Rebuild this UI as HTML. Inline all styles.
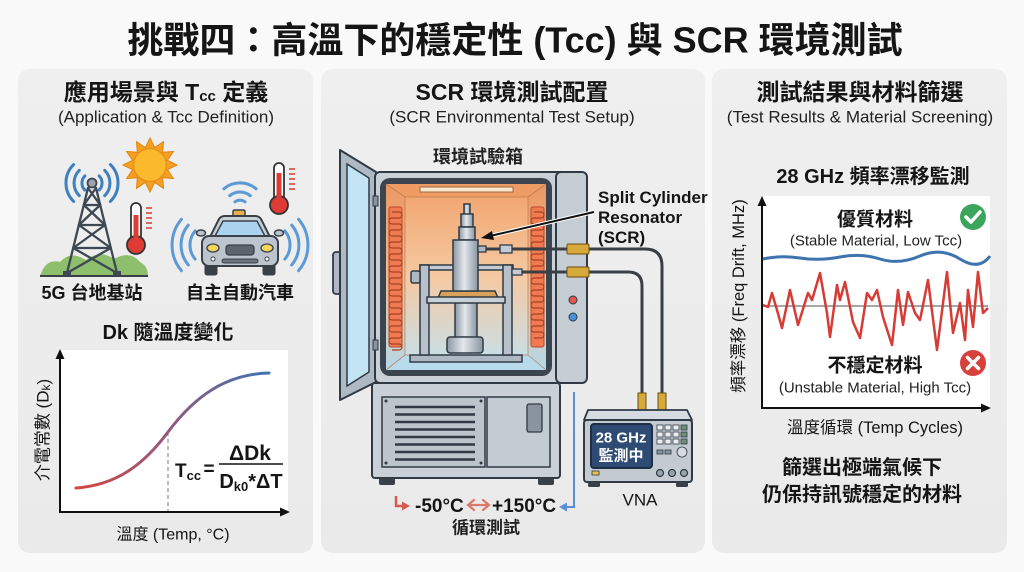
<!DOCTYPE html>
<html><head><meta charset="utf-8">
<style>
html,body{margin:0;padding:0;background:#f9f9f9;}
svg{display:block;font-family:"Liberation Sans","Noto Sans CJK TC",sans-serif;}
</style></head><body>
<svg width="1024" height="572" viewBox="0 0 1024 572" xmlns="http://www.w3.org/2000/svg">
<defs>
 <linearGradient id="pg" x1="0" y1="0" x2="0" y2="1"><stop offset="0" stop-color="#efefef"/><stop offset="1" stop-color="#eaeaea"/></linearGradient>
 <linearGradient id="cv" x1="0" y1="0" x2="0" y2="1"><stop offset="0" stop-color="#f1a26a"/><stop offset="0.5" stop-color="#f5c9a2"/><stop offset="1" stop-color="#c3e2f0"/></linearGradient>
 <linearGradient id="cvs" x1="0" y1="0" x2="0" y2="1"><stop offset="0" stop-color="#eb9762"/><stop offset="0.5" stop-color="#efbd94"/><stop offset="1" stop-color="#b5d9ea"/></linearGradient>
 <linearGradient id="metal" x1="0" y1="0" x2="1" y2="0"><stop offset="0" stop-color="#8a96a2"/><stop offset="0.45" stop-color="#e3e8ed"/><stop offset="1" stop-color="#8a96a2"/></linearGradient>
 <linearGradient id="curve" gradientUnits="userSpaceOnUse" x1="76" y1="0" x2="269" y2="0"><stop offset="0" stop-color="#d4453e"/><stop offset="0.5" stop-color="#8f5a82"/><stop offset="1" stop-color="#3e74b4"/></linearGradient>
</defs>

<rect width="1024" height="572" fill="#f9f9f9"/>

<!-- Title -->
<text x="515" y="40" text-anchor="middle" dominant-baseline="central" font-size="36" font-weight="bold" fill="#151515">挑戰四：高溫下的穩定性 (Tcc) 與 SCR 環境測試</text>

<!-- Panels -->
<rect x="18" y="69" width="295" height="484" rx="12" fill="url(#pg)"/>
<rect x="321" y="69" width="384" height="484" rx="12" fill="url(#pg)"/>
<rect x="712" y="69" width="295" height="484" rx="12" fill="url(#pg)"/>

<!-- ============ LEFT PANEL ============ -->
<text x="166" y="92" text-anchor="middle" dominant-baseline="central" font-size="23" font-weight="bold" fill="#151515">應用場景與 T<tspan font-size="15" dy="4">cc</tspan><tspan dy="-4"> 定義</tspan></text>
<text x="166" y="117" text-anchor="middle" dominant-baseline="central" font-size="17" fill="#222">(Application &amp; Tcc Definition)</text>

<!-- ground hills -->
<path d="M40,276 Q46,258 60,262 Q70,250 86,260 Q100,249 114,259 Q130,250 140,262 Q148,266 148,276 Z" fill="#8dbf6c"/>
<line x1="40" y1="276" x2="148" y2="276" stroke="#3a4048" stroke-width="2"/>
<!-- tower -->
<g stroke="#3d4853" stroke-width="2.3" fill="none" stroke-linecap="round">
 <line x1="88" y1="188" x2="67" y2="273"/><line x1="96" y1="188" x2="117" y2="273"/>
 <line x1="83.8" y1="205" x2="100.2" y2="205"/><line x1="78.9" y1="225" x2="105.1" y2="225"/><line x1="73.2" y1="248" x2="110.8" y2="248"/>
 <line x1="88" y1="188" x2="100.2" y2="205"/><line x1="96" y1="188" x2="83.8" y2="205"/>
 <line x1="83.8" y1="205" x2="105.1" y2="225"/><line x1="100.2" y1="205" x2="78.9" y2="225"/>
 <line x1="78.9" y1="225" x2="110.8" y2="248"/><line x1="105.1" y1="225" x2="73.2" y2="248"/>
 <line x1="73.2" y1="248" x2="117" y2="273"/><line x1="110.8" y1="248" x2="67" y2="273"/>
</g>
<rect x="63" y="271" width="8" height="5" fill="#3d4853"/><rect x="113" y="271" width="8" height="5" fill="#3d4853"/>
<circle cx="92" cy="183" r="4.5" fill="#9aa4ae" stroke="#3d4853" stroke-width="1.8"/>
<g stroke="#3f7fc0" stroke-width="3" fill="none" stroke-linecap="round">
 <path d="M84.9,175.9 A10,10 0 0 0 84.9,190.1"/><path d="M99.1,175.9 A10,10 0 0 1 99.1,190.1"/>
 <path d="M79.3,170.3 A18,18 0 0 0 79.3,195.7"/><path d="M104.7,170.3 A18,18 0 0 1 104.7,195.7"/>
 <path d="M73.6,164.6 A26,26 0 0 0 73.6,201.4"/><path d="M110.4,164.6 A26,26 0 0 1 110.4,201.4"/>
</g>
<!-- sun -->
<g transform="translate(150,165)">
 <polygon points="27,0 17.4,4.7 23.4,13.5 12.7,12.7 13.5,23.4 4.7,17.4 0,27 -4.7,17.4 -13.5,23.4 -12.7,12.7 -23.4,13.5 -17.4,4.7 -27,0 -17.4,-4.7 -23.4,-13.5 -12.7,-12.7 -13.5,-23.4 -4.7,-17.4 0,-27 4.7,-17.4 13.5,-23.4 12.7,-12.7 23.4,-13.5 17.4,-4.7" fill="#f5a023" stroke="#e0850f" stroke-width="1"/>
 <circle r="16.5" fill="#fbb92e" stroke="#e8901a" stroke-width="1.5"/>
</g>
<!-- thermometer 1 -->
<g transform="translate(136,203)">
 <rect x="-5" y="0" width="10" height="38" rx="5" fill="#fff" stroke="#333" stroke-width="1.8"/>
 <circle cx="0" cy="42" r="9" fill="#dd3b34" stroke="#333" stroke-width="1.8"/>
 <rect x="-2.5" y="12" width="5" height="30" fill="#dd3b34"/>
 <g stroke="#d8453c" stroke-width="1.6"><line x1="10" y1="5" x2="16" y2="5"/><line x1="10" y1="10" x2="16" y2="10"/><line x1="10" y1="15" x2="16" y2="15"/><line x1="10" y1="20" x2="16" y2="20"/><line x1="10" y1="25" x2="16" y2="25"/></g>
</g>
<!-- thermometer 2 -->
<g transform="translate(279,163)">
 <rect x="-5" y="0" width="10" height="38" rx="5" fill="#fff" stroke="#333" stroke-width="1.8"/>
 <circle cx="0" cy="42" r="9" fill="#dd3b34" stroke="#333" stroke-width="1.8"/>
 <rect x="-2.5" y="10" width="5" height="32" fill="#dd3b34"/>
 <g stroke="#d8453c" stroke-width="1.6"><line x1="10" y1="6" x2="16" y2="6"/><line x1="10" y1="11" x2="16" y2="11"/><line x1="10" y1="16" x2="16" y2="16"/><line x1="10" y1="21" x2="16" y2="21"/><line x1="10" y1="26" x2="16" y2="26"/></g>
</g>
<!-- car waves -->
<g stroke="#5b9ad6" stroke-width="3" fill="none" stroke-linecap="round">
 <path d="M195.1,230.9 A22,22 0 0 0 195.1,259.1"/><path d="M188.3,225.1 A31,31 0 0 0 188.3,264.9"/><path d="M181.4,219.3 A40,40 0 0 0 181.4,270.7"/>
 <path d="M284.9,230.9 A22,22 0 0 1 284.9,259.1"/><path d="M291.7,225.1 A31,31 0 0 1 291.7,264.9"/><path d="M298.6,219.3 A40,40 0 0 1 298.6,270.7"/>
 <path d="M234.9,201.9 A8,8 0 0 1 245.1,201.9"/><path d="M229.7,195.7 A16,16 0 0 1 250.3,195.7"/><path d="M223.9,188.8 A25,25 0 0 1 256.1,188.8"/>
</g>
<!-- car -->
<g stroke="#3a4048">
 <rect x="233" y="210" width="12" height="7" rx="1.5" fill="#e8b04a" stroke-width="1.5"/>
 <ellipse cx="201" cy="233" rx="4.5" ry="3" fill="#bcc5ce" stroke-width="1.5"/>
 <ellipse cx="279" cy="233" rx="4.5" ry="3" fill="#bcc5ce" stroke-width="1.5"/>
 <path d="M209,239 L219,219 Q221,216 225,216 L255,216 Q259,216 261,219 L271,239 Z" fill="#c8d0d8" stroke-width="2"/>
 <path d="M215,236 L223,221 L257,221 L265,236 Z" fill="#a9d3ef" stroke-width="1.5"/>
 <rect x="205" y="262" width="12" height="13" rx="2" fill="#3a3f45" stroke-width="1"/>
 <rect x="263" y="262" width="12" height="13" rx="2" fill="#3a3f45" stroke-width="1"/>
 <rect x="202" y="236" width="76" height="30" rx="7" fill="#bcc5ce" stroke-width="2"/>
 <ellipse cx="213" cy="248" rx="6" ry="4" fill="#f4d35e" stroke-width="1.3"/>
 <ellipse cx="267" cy="248" rx="6" ry="4" fill="#f4d35e" stroke-width="1.3"/>
 <rect x="226" y="245" width="28" height="10" rx="3" fill="#5a6570" stroke-width="1.3"/>
 <rect x="222" y="259" width="36" height="4" rx="2" fill="#6a747e" stroke-width="1"/>
 <circle cx="213" cy="259" r="2" fill="#fff" stroke-width="1"/><circle cx="267" cy="259" r="2" fill="#fff" stroke-width="1"/>
</g>
<text x="92" y="293" text-anchor="middle" dominant-baseline="central" font-size="18" font-weight="bold" fill="#151515">5G 台地基站</text>
<text x="240" y="293" text-anchor="middle" dominant-baseline="central" font-size="18" font-weight="bold" fill="#151515">自主自動汽車</text>

<text x="168" y="333" text-anchor="middle" dominant-baseline="central" font-size="20" font-weight="bold" fill="#151515">Dk 隨溫度變化</text>
<!-- left chart -->
<rect x="60" y="350" width="228" height="162" fill="#ffffff"/>
<line x1="168" y1="432" x2="168" y2="512" stroke="#777" stroke-width="1" stroke-dasharray="4,3"/>
<path d="M76,488 C118,485 145,463 168,432 C195,396 226,374 269,373" fill="none" stroke="url(#curve)" stroke-width="3" stroke-linecap="round"/>
<line x1="60" y1="357" x2="60" y2="512" stroke="#111" stroke-width="2"/>
<line x1="59" y1="512" x2="282" y2="512" stroke="#111" stroke-width="2"/>
<polygon points="60,349 55.5,359 64.5,359" fill="#111"/>
<polygon points="290,512 280,507.5 280,516.5" fill="#111"/>
<text x="175" y="477" font-size="19" font-weight="bold" fill="#151515">T<tspan font-size="13" dy="3">cc</tspan></text>
<text x="209" y="475" text-anchor="middle" font-size="19" font-weight="bold" fill="#151515">=</text>
<line x1="219" y1="464" x2="283" y2="464" stroke="#151515" stroke-width="1.6"/>
<text x="250" y="460" text-anchor="middle" font-size="21" font-weight="bold" fill="#151515">ΔDk</text>
<text x="251" y="488" text-anchor="middle" font-size="20" font-weight="bold" fill="#151515">D<tspan font-size="13" dy="3">k0</tspan><tspan dy="-3">*ΔT</tspan></text>
<text transform="translate(43,430) rotate(-90)" text-anchor="middle" dominant-baseline="central" font-size="17" fill="#151515">介電常數 (D<tspan font-size="12" dy="3">k</tspan><tspan dy="-3">)</tspan></text>
<text x="173" y="535" text-anchor="middle" dominant-baseline="central" font-size="16" fill="#151515">溫度 (Temp, °C)</text>

<!-- ============ MIDDLE PANEL ============ -->
<text x="512" y="92" text-anchor="middle" dominant-baseline="central" font-size="23" font-weight="bold" fill="#151515">SCR 環境測試配置</text>
<text x="512" y="117" text-anchor="middle" dominant-baseline="central" font-size="17" fill="#222">(SCR Environmental Test Setup)</text>
<text x="478" y="157" text-anchor="middle" dominant-baseline="central" font-size="18" font-weight="bold" fill="#222">環境試驗箱</text>

<!-- door -->
<rect x="333" y="252" width="9" height="42" rx="3" fill="#aeb9c4" stroke="#2f3a45" stroke-width="1.8"/>
<polygon points="340,150 376,172 376,382 340,400" fill="#aeb9c4" stroke="#2f3a45" stroke-width="2" stroke-linejoin="round"/>
<polygon points="347,164 369,178 369,372 347,386" fill="#c2e4f3" stroke="#2f3a45" stroke-width="1.5"/>
<!-- body -->
<rect x="375" y="172" width="190" height="211" rx="5" fill="#c9d0d8" stroke="#2f3a45" stroke-width="2"/>
<rect x="556" y="172" width="31" height="211" rx="5" fill="#c4ccd4" stroke="#2f3a45" stroke-width="2"/>
<circle cx="573" cy="300" r="4" fill="#e0574f" stroke="#2f3a45" stroke-width="1"/>
<circle cx="573" cy="317" r="4" fill="#4f8fd6" stroke="#2f3a45" stroke-width="1"/>
<rect x="373" y="196" width="5" height="10" fill="#8a949e" stroke="#2f3a45" stroke-width="1"/>
<rect x="373" y="340" width="5" height="10" fill="#8a949e" stroke="#2f3a45" stroke-width="1"/>
<!-- cavity -->
<rect x="380" y="178" width="172" height="198" rx="10" fill="#3b4550"/>
<rect x="386" y="184" width="160" height="186" rx="6" fill="url(#cv)"/>
<polygon points="386,184 405,197 405,355 386,370" fill="url(#cvs)"/>
<polygon points="546,184 528,197 528,355 546,370" fill="url(#cvs)"/>
<polygon points="386,184 546,184 528,197 405,197" fill="#ee9c64"/>
<polygon points="386,370 546,370 528,355 405,355" fill="#b7dbeb"/>
<g stroke="#b8744a" stroke-width="0.8" fill="none" opacity="0.8">
 <rect x="405" y="197" width="123" height="158"/>
 <line x1="386" y1="184" x2="405" y2="197"/><line x1="546" y1="184" x2="528" y2="197"/>
 <line x1="386" y1="370" x2="405" y2="355"/><line x1="546" y1="370" x2="528" y2="355"/>
</g>
<rect x="420" y="187" width="93" height="5" fill="#fde7cb" stroke="#9a6a40" stroke-width="1"/>
<!-- heaters -->
<rect x="389" y="207" width="13" height="140" rx="2" fill="#f07a52" stroke="#b94a2a" stroke-width="1"/>
<rect x="531" y="207" width="13" height="140" rx="2" fill="#f07a52" stroke="#b94a2a" stroke-width="1"/>
<path d="M392,212 h7 a3,3 0 0 1 0,6 h-7 a3,3 0 0 0 0,6 h7 a3,3 0 0 1 0,6 h-7 a3,3 0 0 0 0,6 h7 a3,3 0 0 1 0,6 h-7 a3,3 0 0 0 0,6 h7 a3,3 0 0 1 0,6 h-7 a3,3 0 0 0 0,6 h7 a3,3 0 0 1 0,6 h-7 a3,3 0 0 0 0,6 h7 a3,3 0 0 1 0,6 h-7 a3,3 0 0 0 0,6 h7 a3,3 0 0 1 0,6 h-7 a3,3 0 0 0 0,6 h7 a3,3 0 0 1 0,6 h-7 a3,3 0 0 0 0,6 h7 a3,3 0 0 1 0,6 h-7 a3,3 0 0 0 0,6 h7 a3,3 0 0 1 0,6 h-7 a3,3 0 0 0 0,6 h7 a3,3 0 0 1 0,6 h-7 a3,3 0 0 0 0,6 h7 a3,3 0 0 1 0,6 h-7" fill="none" stroke="#a8401f" stroke-width="1.2"/>
<path d="M534,212 h7 a3,3 0 0 1 0,6 h-7 a3,3 0 0 0 0,6 h7 a3,3 0 0 1 0,6 h-7 a3,3 0 0 0 0,6 h7 a3,3 0 0 1 0,6 h-7 a3,3 0 0 0 0,6 h7 a3,3 0 0 1 0,6 h-7 a3,3 0 0 0 0,6 h7 a3,3 0 0 1 0,6 h-7 a3,3 0 0 0 0,6 h7 a3,3 0 0 1 0,6 h-7 a3,3 0 0 0 0,6 h7 a3,3 0 0 1 0,6 h-7 a3,3 0 0 0 0,6 h7 a3,3 0 0 1 0,6 h-7 a3,3 0 0 0 0,6 h7 a3,3 0 0 1 0,6 h-7 a3,3 0 0 0 0,6 h7 a3,3 0 0 1 0,6 h-7 a3,3 0 0 0 0,6 h7 a3,3 0 0 1 0,6 h-7" fill="none" stroke="#a8401f" stroke-width="1.2"/>
<!-- fixture -->
<g stroke="#2f3a45" stroke-width="1.5">
 <rect x="410" y="355" width="112" height="7" fill="#aeb8c2"/>
 <rect x="420" y="265" width="93" height="5" fill="#c3ccd4"/>
 <rect x="420" y="265" width="9" height="90" fill="#b8c1ca"/>
 <rect x="503" y="265" width="9" height="90" fill="#b8c1ca"/>
 <rect x="411" y="271" width="9" height="12" rx="2" fill="#aeb8c2"/>
 <rect x="455" y="298" width="22" height="40" fill="url(#metal)"/>
 <rect x="447" y="337" width="36" height="16" rx="3" fill="url(#metal)"/>
 <path d="M438,298 L441,291 L495,291 L498,298 Z" fill="#d9a05b"/>
 <rect x="427" y="297" width="78" height="6" fill="#c8d0d8"/>
 <rect x="464" y="204" width="6" height="11" fill="url(#metal)"/>
 <rect x="461" y="214" width="12" height="13" fill="url(#metal)"/>
 <rect x="459" y="227" width="16" height="13" fill="url(#metal)"/>
 <rect x="453" y="240" width="25" height="51" fill="url(#metal)"/>
</g>
<!-- cables -->
<g stroke="#2f3a45" stroke-width="1.3">
 <rect x="478" y="246" width="8" height="6" fill="#aeb8c2"/>
 <rect x="500" y="245" width="12" height="8" fill="#c3ccd4"/>
 <rect x="512" y="269" width="10" height="6" fill="#c3ccd4"/>
</g>
<line x1="486" y1="249" x2="500" y2="249" stroke="#3a3f45" stroke-width="3"/>
<line x1="512" y1="249" x2="567" y2="249" stroke="#3a3f45" stroke-width="3"/>
<line x1="522" y1="272" x2="567" y2="272" stroke="#3a3f45" stroke-width="3"/>
<path d="M589,249 L645,249 Q662,249 662,266 L662,393" fill="none" stroke="#3a3f45" stroke-width="3"/>
<path d="M589,272 L628,272 Q642,272 642,286 L642,393" fill="none" stroke="#3a3f45" stroke-width="3"/>
<rect x="567" y="244" width="22" height="10" rx="1" fill="#d7a93a" stroke="#6a5010" stroke-width="1"/>
<rect x="567" y="267" width="22" height="10" rx="1" fill="#d7a93a" stroke="#6a5010" stroke-width="1"/>
<rect x="638" y="393" width="8" height="20" fill="#d7a93a" stroke="#6a5010" stroke-width="1"/>
<rect x="658" y="393" width="8" height="20" fill="#d7a93a" stroke="#6a5010" stroke-width="1"/>
<!-- arrow to SCR -->
<line x1="594" y1="212" x2="490" y2="236" stroke="#fff" stroke-width="4"/>
<line x1="594" y1="212" x2="490" y2="236" stroke="#111" stroke-width="2"/>
<polygon points="481,238 492,231 494,240" fill="#111"/>
<text font-size="17" font-weight="bold" fill="#151515"><tspan x="598" y="203">Split Cylinder</tspan><tspan x="598" y="223">Resonator</tspan><tspan x="598" y="243">(SCR)</tspan></text>

<!-- lower unit -->
<rect x="372" y="383" width="188" height="95" rx="3" fill="#c9d0d8" stroke="#2f3a45" stroke-width="2"/>
<rect x="382" y="397" width="103" height="70" fill="#bcc4cc" stroke="#2f3a45" stroke-width="1.5"/>
<g fill="#2f3a45"><circle cx="386" cy="401" r="1.5"/><circle cx="481" cy="401" r="1.5"/><circle cx="386" cy="463" r="1.5"/><circle cx="481" cy="463" r="1.5"/></g>
<g stroke="#2f3a45" stroke-width="2.5"><line x1="395" y1="407" x2="475" y2="407"/><line x1="395" y1="414.5" x2="475" y2="414.5"/><line x1="395" y1="422" x2="475" y2="422"/><line x1="395" y1="429.5" x2="475" y2="429.5"/><line x1="395" y1="437" x2="475" y2="437"/><line x1="395" y1="444.5" x2="475" y2="444.5"/><line x1="395" y1="452" x2="475" y2="452"/><line x1="395" y1="459.5" x2="475" y2="459.5"/></g>
<rect x="487" y="397" width="63" height="70" fill="#c3cbd3" stroke="#2f3a45" stroke-width="1.5"/>
<rect x="527" y="404" width="15" height="28" rx="2" fill="#8a949e" stroke="#2f3a45" stroke-width="1.3"/>
<rect x="379" y="478" width="16" height="7" rx="2" fill="#3a4048"/>
<rect x="538" y="478" width="16" height="7" rx="2" fill="#3a4048"/>

<!-- cycle arrows -->
<path d="M574,392 L574,507 L566,507" fill="none" stroke="#5a8fd6" stroke-width="2"/>
<polygon points="559,507 567,502.5 567,511.5" fill="#5a8fd6"/>
<path d="M396,496 L396,506 L403,506" fill="none" stroke="#d65a50" stroke-width="2.5"/>
<polygon points="410,506 402,501.5 402,510.5" fill="#d65a50"/>
<text x="415" y="512" font-size="19" font-weight="bold" fill="#151515">-50°C</text>
<g stroke="#d9786a" stroke-width="2.2" fill="none" stroke-linecap="round"><line x1="469" y1="505" x2="488" y2="505"/><polyline points="474,500 468,505 474,510"/><polyline points="483,500 489,505 483,510"/></g>
<text x="492" y="512" font-size="19" font-weight="bold" fill="#151515">+150°C</text>
<text x="486" y="528" text-anchor="middle" dominant-baseline="central" font-size="17" font-weight="bold" fill="#222">循環測試</text>

<!-- VNA -->
<polygon points="588,410 687,410 692,420 584,420" fill="#d5dbe0" stroke="#2f3a45" stroke-width="1.8" stroke-linejoin="round"/>
<rect x="584" y="420" width="108" height="62" rx="3" fill="#c3cad1" stroke="#2f3a45" stroke-width="2"/>
<rect x="591" y="424" width="61" height="44" rx="3" fill="#2d4b73" stroke="#1e2e44" stroke-width="2"/>
<text x="621" y="438" text-anchor="middle" dominant-baseline="central" font-size="15" font-weight="bold" fill="#fff">28 GHz</text>
<text x="621" y="456" text-anchor="middle" dominant-baseline="central" font-size="15" font-weight="bold" fill="#fff">監測中</text>
<g fill="#eef1f4" stroke="#2f3a45" stroke-width="0.8">
 <rect x="657" y="425" width="6" height="5"/><rect x="665" y="425" width="6" height="5"/><rect x="673" y="425" width="6" height="5"/><rect x="681" y="425" width="6" height="5" fill="#6f8f78"/>
 <rect x="657" y="432" width="6" height="5"/><rect x="665" y="432" width="6" height="5"/><rect x="673" y="432" width="6" height="5"/><rect x="681" y="432" width="6" height="5" fill="#6f8f78"/>
 <rect x="657" y="439" width="6" height="5"/><rect x="665" y="439" width="6" height="5"/><rect x="673" y="439" width="6" height="5"/><rect x="681" y="439" width="6" height="5" fill="#6f8f78"/>
 <rect x="657" y="450" width="6" height="4" fill="#8a949e"/><rect x="665" y="450" width="6" height="4" fill="#8a949e"/>
 <circle cx="682" cy="452" r="5" fill="#d5dbe0"/>
</g>
<g fill="#9aa3ac" stroke="#2f3a45" stroke-width="1.2"><circle cx="660" cy="473" r="3.5"/><circle cx="672" cy="473" r="3.5"/><circle cx="684" cy="473" r="3.5"/></g>
<rect x="592" y="471" width="7" height="4" fill="#e9c34a" stroke="#2f3a45" stroke-width="0.8"/>
<rect x="588" y="482" width="12" height="5" rx="1.5" fill="#3a4048"/>
<rect x="676" y="482" width="12" height="5" rx="1.5" fill="#3a4048"/>
<text x="640" y="500" text-anchor="middle" dominant-baseline="central" font-size="17" fill="#151515">VNA</text>

<!-- ============ RIGHT PANEL ============ -->
<text x="860" y="92" text-anchor="middle" dominant-baseline="central" font-size="23" font-weight="bold" fill="#151515">測試結果與材料篩選</text>
<text x="860" y="117" text-anchor="middle" dominant-baseline="central" font-size="17" fill="#222">(Test Results &amp; Material Screening)</text>
<text x="873" y="177" text-anchor="middle" dominant-baseline="central" font-size="20" font-weight="bold" fill="#151515">28 GHz 頻率漂移監測</text>

<rect x="763" y="196" width="227" height="212" fill="#ffffff"/>
<line x1="763" y1="306" x2="988" y2="306" stroke="#888" stroke-width="1.5"/>
<path d="M763,259 Q781,255 800,258 T840,257 T880,259 T920,256 T960,259 T990,256" fill="none" stroke="#3d74b0" stroke-width="3"/>
<polyline points="763,305 768,307 772,293 777,310 782,328 790,290 798,325 808,293 812,300 820,273 827,313 830,337 837,285 840,300 845,282 848,297 853,322 860,338 867,293 872,300 877,290 883,317 892,345 898,290 903,325 908,292 915,313 920,320 928,280 937,350 947,272 953,333 960,303 965,340 968,290 973,327 978,272 983,313 988,308" fill="none" stroke="#d63b35" stroke-width="2.5" stroke-linejoin="round"/>
<line x1="762" y1="204" x2="762" y2="409" stroke="#111" stroke-width="2"/>
<line x1="761" y1="408" x2="983" y2="408" stroke="#111" stroke-width="2"/>
<polygon points="762,196 757.5,206 766.5,206" fill="#111"/>
<polygon points="991,408 981,403.5 981,412.5" fill="#111"/>

<text x="875" y="220" text-anchor="middle" dominant-baseline="central" font-size="19" font-weight="bold" fill="#151515">優質材料</text>
<text x="876" y="241" text-anchor="middle" dominant-baseline="central" font-size="15" fill="#222">(Stable Material, Low Tcc)</text>
<circle cx="973" cy="217" r="13" fill="#3ba55c"/>
<path d="M966,217 L971,222 L980,212" fill="none" stroke="#fff" stroke-width="3.5" stroke-linecap="round" stroke-linejoin="round"/>
<text x="875" y="366" text-anchor="middle" dominant-baseline="central" font-size="19" font-weight="bold" fill="#151515">不穩定材料</text>
<text x="875" y="388" text-anchor="middle" dominant-baseline="central" font-size="15" fill="#222">(Unstable Material, High Tcc)</text>
<circle cx="973" cy="363" r="13" fill="#d8413b"/>
<path d="M967.5,357.5 L978.5,368.5 M978.5,357.5 L967.5,368.5" fill="none" stroke="#fff" stroke-width="3.5" stroke-linecap="round"/>

<text transform="translate(739,296) rotate(-90)" text-anchor="middle" dominant-baseline="central" font-size="16.5" fill="#151515">頻率漂移 (Freq Drift, MHz)</text>
<text x="875" y="428" text-anchor="middle" dominant-baseline="central" font-size="16.5" fill="#151515">溫度循環 (Temp Cycles)</text>

<text x="862" y="468" text-anchor="middle" dominant-baseline="central" font-size="20" font-weight="bold" fill="#151515">篩選出極端氣候下</text>
<text x="862" y="495" text-anchor="middle" dominant-baseline="central" font-size="20" font-weight="bold" fill="#151515">仍保持訊號穩定的材料</text>
</svg>
</body></html>
